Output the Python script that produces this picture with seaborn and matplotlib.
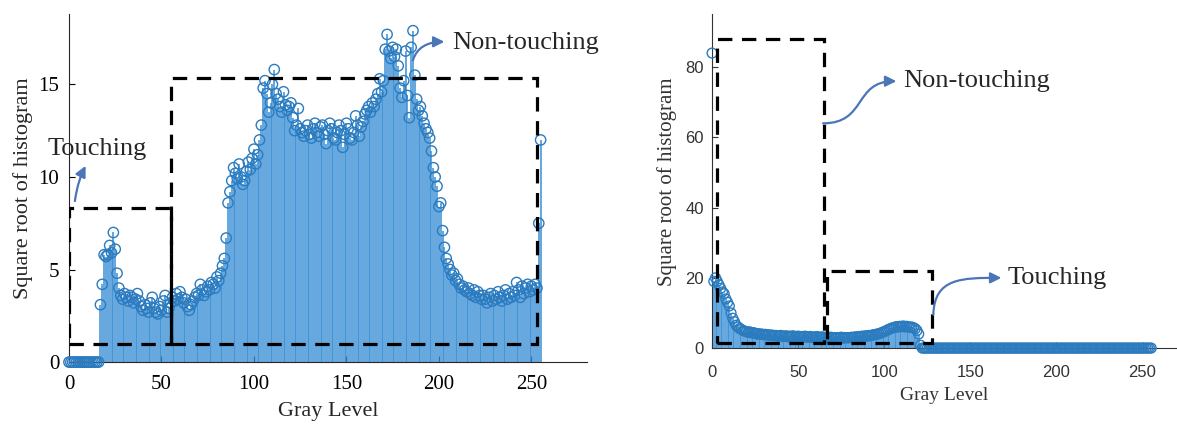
import numpy as np
import pandas as pd
import seaborn as sns
import matplotlib.pyplot as plt
from matplotlib.patches import Rectangle, FancyArrowPatch
from matplotlib.path import Path

sns.set_style('ticks', {'xtick.direction': 'in', 'ytick.direction': 'in'})
plt.rcParams['font.family'] = ['Liberation Serif', 'DejaVu Serif']

# gray levels 0..255
gray = list(range(256))

# square root of histogram, left image (rows of 16 levels)
left_sqrt = [
    0, 0, 0, 0, 0, 0, 0, 0, 0, 0, 0, 0, 0, 0, 0, 0,
    0, 3.1, 4.2, 5.8, 5.7, 5.8, 6.3, 5.9, 7.0, 6.1, 4.8, 4.0, 3.6, 3.4, 3.7, 3.5,
    3.3, 3.6, 3.5, 3.2, 3.4, 3.7, 3.3, 3.0, 2.8, 3.1, 2.9, 2.7, 3.2, 3.5, 2.9, 2.7,
    2.6, 3.0, 2.8, 3.3, 3.6, 2.7, 2.9, 3.2, 3.5, 3.3, 3.7, 3.4, 3.8, 3.5, 3.2, 3.4,
    3.0, 2.8, 3.1, 3.3, 3.5, 3.7, 3.6, 4.2, 3.9, 3.6, 3.8, 4.1, 3.9, 4.3, 4.2, 4.0,
    4.6, 4.4, 4.8, 5.2, 5.6, 6.7, 8.6, 9.2, 9.8, 10.5, 10.2, 9.9, 10.7, 10.0, 9.6, 9.8,
    10.3, 10.8, 10.4, 11.0, 11.5, 10.7, 11.2, 12.0, 12.8, 14.8, 15.2, 14.5, 13.5, 14.0, 15.0, 15.8,
    14.5, 14.2, 13.8, 13.5, 14.6, 13.9, 13.6, 13.8, 14.0, 13.2, 12.5, 12.8, 13.7, 12.6, 12.4, 12.2,
    12.5, 12.8, 12.3, 12.1, 12.6, 12.9, 12.4, 12.2, 12.7, 12.8, 12.3, 11.8, 12.5, 12.9, 12.6, 12.1,
    12.0, 12.4, 12.8, 12.5, 11.6, 12.3, 12.9, 12.6, 12.1, 12.0, 12.4, 13.3, 12.8, 12.2, 12.7, 13.0,
    13.4, 13.6, 13.8, 13.5, 14.0, 13.8, 14.2, 14.5, 15.3, 14.6, 15.2, 16.9, 17.7, 16.8, 16.4, 17.0,
    16.5, 16.9, 16.0, 14.8, 14.3, 15.2, 16.8, 14.4, 13.2, 17.0, 17.9, 15.5, 14.2, 13.6, 13.8, 13.3,
    12.9, 12.6, 12.4, 12.1, 11.4, 10.5, 10.0, 9.5, 8.4, 8.6, 7.1, 6.2, 5.6, 5.3, 5.0, 4.7,
    4.8, 4.4, 4.5, 4.2, 4.0, 4.1, 3.9, 3.8, 4.0, 3.7, 3.6, 3.9, 3.5, 3.8, 3.6, 3.4,
    3.6, 3.4, 3.2, 3.5, 3.7, 3.3, 3.6, 3.4, 3.8, 3.5, 3.3, 3.6, 3.9, 3.4, 3.7, 3.5,
    3.8, 3.6, 4.3, 3.9, 3.5, 4.1, 3.7, 4.0, 4.2, 3.8, 4.1, 3.9, 4.2, 4.0, 7.5, 12.0,
]

# square root of histogram, right image
right_sqrt = [
    84, 19, 20, 19, 18, 17, 16, 15.5, 14, 13, 12, 10, 8.5, 7.5, 6.5, 6,
    5.6, 5.3, 5.0, 4.8, 4.7, 4.5, 4.6, 4.3, 4.4, 4.2, 4.0, 4.1, 3.9, 4.0, 3.8, 3.9,
    3.7, 3.8, 3.6, 3.7, 3.5, 3.6, 3.4, 3.5, 3.6, 3.3, 3.4, 3.5, 3.2, 3.4, 3.3, 3.5,
    3.2, 3.3, 3.4, 3.1, 3.3, 3.2, 3.4, 3.1, 3.2, 3.3, 3.0, 3.2, 3.1, 3.3, 3.0, 3.1,
    3.2, 3.0, 3.1, 2.9, 3.0, 3.1, 2.9, 3.0, 2.8, 3.0, 2.9, 3.1, 2.8, 3.0, 2.9, 3.0,
    2.9, 3.1, 3.0, 3.2, 3.1, 3.3, 3.2, 3.4, 3.3, 3.5, 3.4, 3.6, 3.5, 3.7, 3.8, 3.9,
    4.0, 4.1, 4.3, 4.5, 4.7, 4.9, 5.2, 5.4, 5.6, 5.8, 5.9, 6.1, 6.0, 6.2, 6.1, 6.3,
    6.0, 6.2, 6.1, 5.9, 6.0, 5.8, 5.5, 5.0, 4.0, 0.8, 0, 0, 0, 0, 0, 0,
] + [0] * 128

# dashed boxes: (x0, y0, x1, y1)
left_boxes = [(0, 1.0, 55, 8.3), (55, 1.0, 253, 15.35)]
right_boxes = [(3, 1.4, 65, 88), (67, 1.4, 128, 22)]

stem_col = '#3a8fd6'
mark_col = '#2b7bbf'
arrow_col = '#4a76b8'

fig = plt.figure(figsize=(11.77, 4.25), dpi=100)
ax1 = fig.add_axes([0.0586, 0.148, 0.440, 0.819])
ax2 = fig.add_axes([0.605, 0.181, 0.395, 0.785])


def stem(ax, y, s):
    df = pd.DataFrame({'gray': gray, 'val': y})
    ax.vlines(df['gray'], 0, df['val'], color=stem_col, lw=1.3, alpha=0.85)
    sns.scatterplot(data=df, x='gray', y='val', ax=ax, marker='o', s=s,
                    facecolors='none', edgecolor=mark_col, linewidth=1.0,
                    zorder=3, clip_on=False)


def boxes(ax, bx):
    for x0, y0, x1, y1 in bx:
        ax.add_patch(Rectangle((x0, y0), x1 - x0, y1 - y0, fill=False,
                               edgecolor='black', lw=2.3,
                               linestyle=(0, (4.5, 3)), zorder=4))


def curve_arrow(ax, p0, p1, p2, p3):
    path = Path([p0, p1, p2, p3], [Path.MOVETO, Path.CURVE4, Path.CURVE4, Path.CURVE4])
    ax.add_patch(FancyArrowPatch(path=path, arrowstyle='-|>', mutation_scale=16,
                                 color=arrow_col, lw=1.6, transform=ax.transData,
                                 clip_on=False, zorder=5))


# ---- left panel
stem(ax1, left_sqrt, 55)
boxes(ax1, left_boxes)
ax1.set_xlim(0, 280)
ax1.set_ylim(0, 18.8)
ax1.set_xticks([0, 50, 100, 150, 200, 250])
ax1.set_yticks([0, 5, 10, 15])
ax1.tick_params(labelsize=15, length=4, colors='black', pad=9)
ax1.tick_params(axis='y', pad=7)
ax1.set_xlabel('Gray Level', fontsize=16, labelpad=6)
ax1.set_ylabel('Square root of histogram', fontsize=16, labelpad=4)
ax1.text(-11.5, 11.5, 'Touching', fontsize=19, va='center', ha='left')
ax1.text(207, 17.25, 'Non-touching', fontsize=19, va='center', ha='left')
curve_arrow(ax1, (3.2, 8.7), (4.5, 9.6), (6.5, 10.1), (9.0, 10.6))
curve_arrow(ax1, (186, 16.3), (188, 17.0), (194, 17.3), (203, 17.3))
sns.despine(ax=ax1)

# ---- right panel
stem(ax2, right_sqrt, 50)
boxes(ax2, right_boxes)
ax2.set_xlim(0, 270)
ax2.set_ylim(0, 95)
ax2.set_xticks([0, 50, 100, 150, 200, 250])
ax2.set_yticks([0, 20, 40, 60, 80])
ax2.tick_params(labelsize=12, length=4, colors='#333333', pad=12,
                labelfontfamily='Liberation Sans')
ax2.tick_params(axis='y', pad=6)
ax2.set_xlabel('Gray Level', fontsize=14, color='#333333', labelpad=5)
ax2.set_ylabel('Square root of histogram', fontsize=15, color='#333333', labelpad=6)
ax2.text(111, 76, 'Non-touching', fontsize=19, va='center', ha='left')
ax2.text(171.5, 20, 'Touching', fontsize=19, va='center', ha='left')
curve_arrow(ax2, (64.5, 64), (90, 64), (82, 76), (107, 76))
curve_arrow(ax2, (128.5, 9.5), (129, 20), (145, 20), (168, 20))
sns.despine(ax=ax2)
for sp in ('left', 'bottom'):
    ax2.spines[sp].set_color('#333333')

fig.savefig('out.png', dpi=100)
